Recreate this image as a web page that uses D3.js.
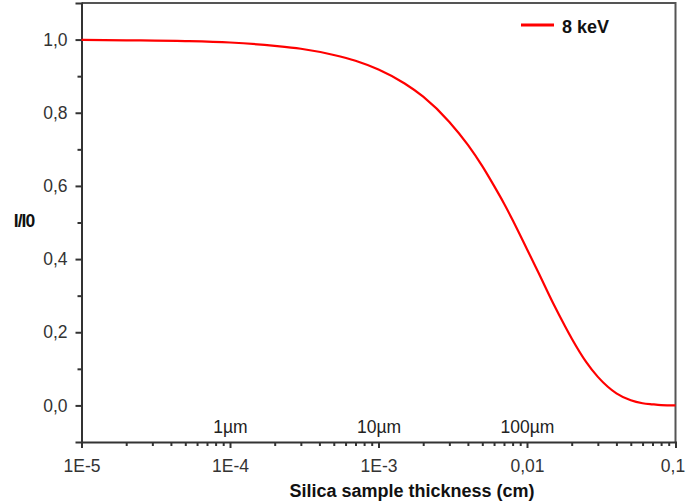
<!DOCTYPE html>
<html>
<head>
<meta charset="utf-8">
<script src="https://cdn.jsdelivr.net/npm/d3@7"></script>
<style>
  html, body { margin: 0; padding: 0; background: #fff; }
  svg { display: block; }
  text { font-family: "Liberation Sans", Arial, sans-serif; }
</style>
</head>
<body>
<svg id="chart" width="686" height="503"></svg>
<script>
// Data
const thickness = [1e-5, 2e-5, 5e-5, 1e-4, 2e-4, 3e-4, 5e-4, 7e-4, 1e-3, 1.5e-3, 2e-3, 3e-3, 4e-3, 5e-3, 6e-3, 7e-3, 8e-3, 0.01, 0.012, 0.015, 0.018, 0.02, 0.025, 0.03, 0.035, 0.04, 0.05, 0.06, 0.07, 0.08, 0.1];
const ratio8keV = [0.999, 0.998, 0.996, 0.992, 0.983, 0.975, 0.958, 0.942, 0.918, 0.880, 0.844, 0.775, 0.712, 0.654, 0.600, 0.552, 0.507, 0.427, 0.361, 0.279, 0.217, 0.183, 0.119, 0.078, 0.051, 0.033, 0.014, 0.006, 0.003, 0.001, 0.000];
const seriesName = "8 keV";
const xTickValues = [1e-5, 1e-4, 1e-3, 0.01, 0.1];
const xTickLabels = ["1E-5", "1E-4", "1E-3", "0,01", "0,1"];
const yTickValues = [0, 0.2, 0.4, 0.6, 0.8, 1.0];
const yTickLabels = ["0,0", "0,2", "0,4", "0,6", "0,8", "1,0"];
const annotX = [1e-4, 1e-3, 0.01];
const annotLabels = ["1µm", "10µm", "100µm"];
const xTitle = "Silica sample thickness (cm)";
const yTitle = "I/I0";

const svg = d3.select("#chart");
const m = { left: 81.5, right: 675.5, top: 3, bottom: 442 };
const x = d3.scaleLog().domain([1e-5, 0.1]).range([m.left, m.right]);
const y = d3.scaleLinear().domain([-0.1, 1.1]).range([m.bottom, m.top]);
const axisColor = "#333";
const fontSize = 17.5;

// frame (top and right)
svg.append("path")
  .attr("d", `M${m.left},${m.top}H${m.right}V${m.bottom}`)
  .attr("fill", "none").attr("stroke", "#555").attr("stroke-width", 2);

// x axis
const minorX = [];
for (let e = -5; e < -1; e++) for (let k = 2; k <= 9; k++) minorX.push(k * Math.pow(10, e));
const gx = svg.append("g").attr("transform", `translate(0,${m.bottom})`);
gx.call(d3.axisBottom(x).tickValues(minorX).tickSize(4).tickFormat(""));
gx.select(".domain").remove();
gx.selectAll(".tick line").attr("stroke", axisColor).attr("stroke-width", 2);
const gx2 = svg.append("g").attr("transform", `translate(0,${m.bottom})`);
gx2.call(d3.axisBottom(x).tickValues(xTickValues).tickSize(6).tickPadding(11.5)
  .tickFormat((d, i) => xTickLabels[i]));
gx2.select(".domain").attr("stroke", axisColor).attr("stroke-width", 2);
gx2.selectAll(".tick line").attr("stroke", axisColor).attr("stroke-width", 2);
gx2.selectAll(".tick text").attr("font-size", fontSize).attr("fill", "#333")
  .attr("font-family", "'Liberation Sans', Arial, sans-serif");
// keep the last label inside the window
gx2.selectAll(".tick text").filter(d => d === 0.1).attr("dx", -3);

// y axis
const minorY = d3.range(-0.1, 1.11, 0.1).map(v => +v.toFixed(1)).filter(v => !yTickValues.includes(v) && v > -0.1 && v < 1.1);
const gy = svg.append("g").attr("transform", `translate(${m.left},0)`);
gy.call(d3.axisLeft(y).tickValues(minorY).tickSize(4).tickFormat(""));
gy.select(".domain").remove();
gy.selectAll(".tick line").attr("stroke", axisColor).attr("stroke-width", 2);
const gy2 = svg.append("g").attr("transform", `translate(${m.left},0)`);
gy2.call(d3.axisLeft(y).tickValues(yTickValues).tickSize(6).tickPadding(8)
  .tickFormat((d, i) => yTickLabels[i]));
gy2.select(".domain").attr("stroke", axisColor).attr("stroke-width", 2);
gy2.selectAll(".tick line").attr("stroke", axisColor).attr("stroke-width", 2);
gy2.selectAll(".tick text").attr("font-size", fontSize).attr("fill", "#333")
  .attr("font-family", "'Liberation Sans', Arial, sans-serif");

// curve
const data = thickness.map((t, i) => [t, ratio8keV[i]]);
svg.append("path").datum(data)
  .attr("fill", "none").attr("stroke", "#ff0000").attr("stroke-width", 2.2)
  .attr("d", d3.line().x(d => x(d[0])).y(d => y(d[1])).curve(d3.curveMonotoneX));

// annotations
svg.selectAll(".annot").data(annotX).enter().append("text")
  .attr("x", d => x(d) + 0.5).attr("y", 433)
  .attr("text-anchor", "middle").attr("font-size", fontSize).attr("fill", "#222")
  .text((d, i) => annotLabels[i]);

// titles
svg.append("text").attr("x", 412).attr("y", 497).attr("text-anchor", "middle")
  .attr("font-size", 18).attr("font-weight", "bold").attr("fill", "#111").text(xTitle);
svg.append("text").attr("x", 24).attr("y", 227).attr("text-anchor", "middle")
  .attr("font-size", 17.5).attr("font-weight", "bold").attr("fill", "#111")
  .attr("letter-spacing", -1).text(yTitle);

// legend
svg.append("line").attr("x1", 521).attr("x2", 554).attr("y1", 25).attr("y2", 25)
  .attr("stroke", "#ff0000").attr("stroke-width", 3);
svg.append("text").attr("x", 562).attr("y", 33).attr("font-size", 18)
  .attr("font-weight", "bold").attr("fill", "#111").text(seriesName);
</script>
</body>
</html>
